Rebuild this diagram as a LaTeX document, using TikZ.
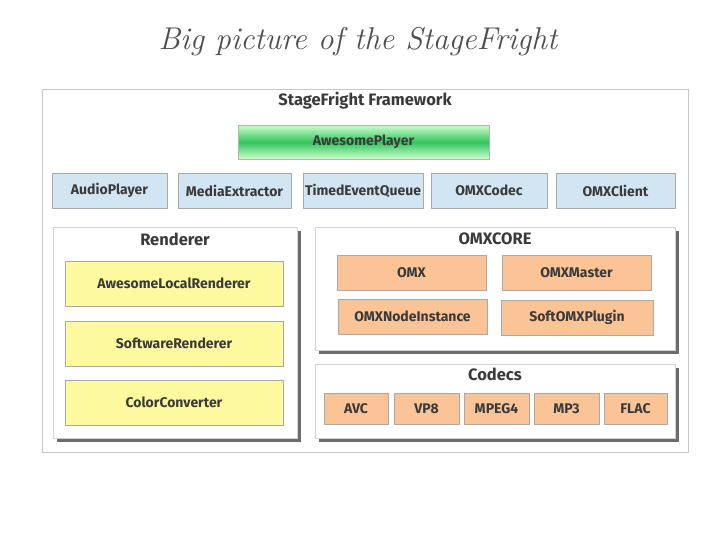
\documentclass[tikz,border=0pt]{standalone}
\usepackage{fontspec}
\setsansfont{Fira Sans}
\usetikzlibrary{shadows}
\definecolor{txt}{HTML}{3A3A3A}
\definecolor{bluef}{HTML}{D2E5F2}
\definecolor{yelf}{HTML}{FCF99E}
\definecolor{oraf}{HTML}{FAC496}
\definecolor{boxd}{HTML}{A8A8A8}
\tikzset{
  every node/.style={text=txt, font=\sffamily\bfseries\fontsize{14}{16}\selectfont, inner sep=0pt},
  frame/.style={draw=gray!45, line width=1pt, fill=white},
  group/.style={draw=gray!35, line width=0.8pt, fill=white,
    drop shadow={shadow xshift=3.5pt, shadow yshift=-3.5pt, fill=gray!85!black, opacity=1}},
  grouptitle/.style={font=\sffamily\bfseries\fontsize{16.5}{18}\selectfont},
  item/.style={draw=boxd, line width=0.5pt},
  bluebox/.style={item, fill=bluef, minimum height=35pt},
  yelbox/.style={item, fill=yelf, minimum width=218pt, minimum height=45pt},
  orabox/.style={item, fill=oraf, minimum height=35pt},
  codbox/.style={item, fill=oraf, minimum height=31pt},
}
\begin{document}
\begin{tikzpicture}[x=1pt,y=-1pt]
\useasboundingbox[fill=white] (0,0) rectangle (728,546);
\node[font=\rmfamily\itshape\fontsize{31.5}{34}\selectfont\addfontfeatures{FakeBold=0.6}, text=txt!90] (title) at (358,42) {Big picture of the StageFright};
\node[frame, minimum width=646pt, minimum height=363pt] (fw) at (365,270.5) {};
\node[grouptitle] (fwt) at (365,101) {StageFright Framework};
\node[draw=gray!60, top color=green!20!white, bottom color=green!20!white, middle color={rgb,255:red,51;green,196;blue,96},
      minimum width=251pt, minimum height=34pt] (ap) at (363.5,142) {AwesomePlayer};
\node[bluebox, minimum width=115pt] (aud) at (109.5,190.5) {AudioPlayer};
\node[bluebox, minimum width=113pt] (mex) at (234.5,190.5) {MediaExtractor};
\node[bluebox, minimum width=120pt] (teq) at (363,190.5) {TimedEventQueue};
\node[bluebox, minimum width=116pt] (omc) at (489,190.5) {OMXCodec};
\node[bluebox, minimum width=119pt] (ocl) at (615.5,190.5) {OMXClient};
% Renderer
\node[group, minimum width=244pt, minimum height=211pt] (ren) at (175,332.5) {};
\node[grouptitle] (rent) at (175,239) {Renderer};
\node[yelbox] (alr) at (174,283.5) {AwesomeLocalRenderer};
\node[yelbox] (swr) at (174,343.5) {SoftwareRenderer};
\node[yelbox] (ccv) at (174,402.5) {ColorConverter};
% OMXCORE
\node[group, minimum width=360pt, minimum height=123pt] (core) at (495,288.5) {};
\node[grouptitle] (coret) at (495,239) {OMXCORE};
\node[orabox, minimum width=149pt] (omx) at (411.5,272.5) {OMX};
\node[orabox, minimum width=149pt] (omm) at (576.5,272.5) {OMXMaster};
\node[orabox, minimum width=149pt] (oni) at (412.5,316.5) {OMXNodeInstance};
\node[orabox, minimum width=152pt] (sop) at (577,317.5) {SoftOMXPlugin};
% Codecs
\node[group, minimum width=360pt, minimum height=74pt] (cod) at (495,401) {};
\node[grouptitle] (codt) at (495,374) {Codecs};
\node[codbox, minimum width=64pt] (avc) at (356,408.5) {AVC};
\node[codbox, minimum width=65pt] (vp8) at (426.5,408.5) {VP8};
\node[codbox, minimum width=65pt] (mp4) at (496.5,408.5) {MPEG4};
\node[codbox, minimum width=65pt] (mp3) at (566.5,408.5) {MP3};
\node[codbox, minimum width=63pt] (flac) at (635.5,408.5) {FLAC};
\end{tikzpicture}
\end{document}
